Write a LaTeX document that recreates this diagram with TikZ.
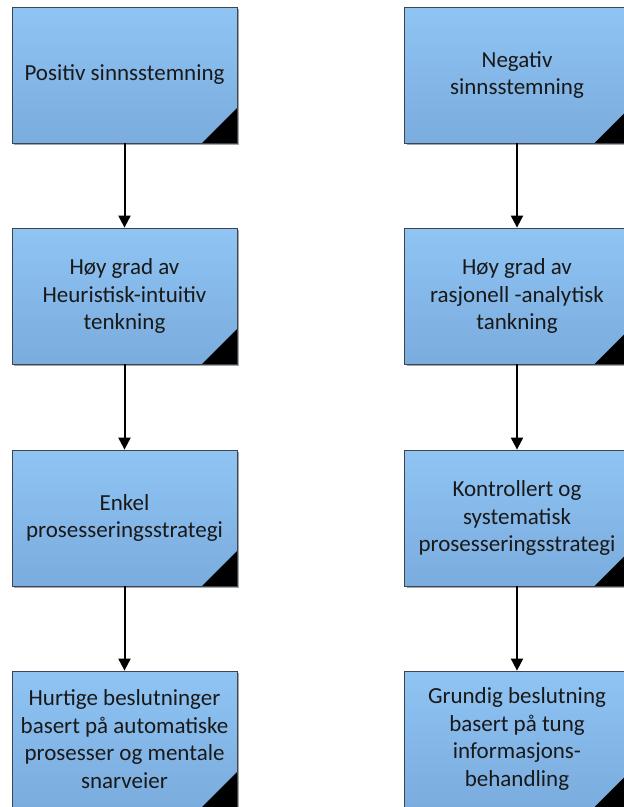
\documentclass[tikz,border=0pt]{standalone}
\usepackage{fontspec}
\setmainfont{Carlito}
\usetikzlibrary{arrows.meta,shadows}
\definecolor{boxtop}{RGB}{143,196,243}
\definecolor{boxbot}{RGB}{122,172,222}
\definecolor{boxedge}{RGB}{60,70,80}
\tikzset{
  x=1pt, y=-1pt,
  flowbox/.style={draw=boxedge, line width=0.8pt, top color=boxtop, bottom color=boxbot,
    minimum width=225pt, minimum height=136pt, inner sep=0pt, align=center,
    font=\fontsize{23}{27.6}\selectfont, text=black!90,
    drop shadow={shadow xshift=2pt, shadow yshift=-2pt, fill=black!35, opacity=1},
    path picture={\fill[black] (path picture bounding box.south east) -- ++(-35pt,0pt) -- ++(35pt,35pt) -- cycle;}},
  flowarrow/.style={line width=2pt, -{Triangle[length=12pt,width=12pt]}}
}
\begin{document}
\begin{tikzpicture}
\useasboundingbox (0,0) rectangle (624,807);
\node[flowbox] (l1) at (124.5,75) {Positiv sinnsstemning};
\node[flowbox] (l2) at (124.5,296) {Høy grad av\\Heuristisk-intuitiv\\tenkning};
\node[flowbox] (l3) at (124.5,518) {Enkel\\prosesseringsstrategi};
\node[flowbox] (l4) at (124.5,739) {Hurtige beslutninger\\basert på automatiske\\prosesser og mentale\\snarveier};
\node[flowbox] (r1) at (517,75) {Negativ\\sinnsstemning};
\node[flowbox] (r2) at (517,296) {Høy grad av\\rasjonell -analytisk\\tankning};
\node[flowbox] (r3) at (517,518) {Kontrollert og\\systematisk\\prosesseringsstrategi};
\node[flowbox] (r4) at (517,739) {Grundig beslutning\\basert på tung\\informasjons-\\behandling};
\draw[flowarrow] (l1) -- (l2);
\draw[flowarrow] (l2) -- (l3);
\draw[flowarrow] (l3) -- (l4);
\draw[flowarrow] (r1) -- (r2);
\draw[flowarrow] (r2) -- (r3);
\draw[flowarrow] (r3) -- (r4);
\end{tikzpicture}
\end{document}
